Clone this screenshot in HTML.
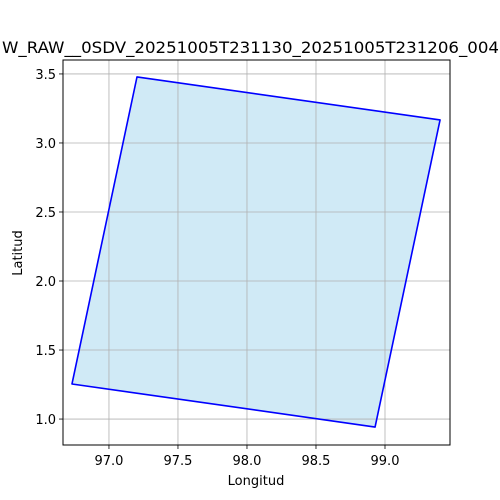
<!DOCTYPE html>
<html><head><meta charset="utf-8"><style>body{margin:0;background:#fff}svg{display:block;font-family:"DejaVu Sans","Liberation Sans",sans-serif}</style></head>
<body>
<svg id="chart" width="500" height="500">
<text x="2" y="53" font-size="16" fill="#000" textLength="497" lengthAdjust="spacingAndGlyphs">W_RAW__0SDV_20251005T231130_20251005T231206_004</text>
<g id="fill"></g>
<g id="grid"></g>
<g id="plot"></g>
<rect x="63" y="60" width="387" height="385" fill="none" stroke="#000" stroke-width="1"/>
<g id="ticks" font-size="13" fill="#000"></g>
<text x="256" y="485" font-size="13" text-anchor="middle">Longitud</text>
<text x="22" y="253" font-size="13" text-anchor="middle" transform="rotate(-90 22 253)">Latitud</text>
</svg>
<script>
const lons = [96.732, 97.203, 99.399, 98.928];
const lats = [1.254, 3.478, 3.167, 0.942];
const xTicks = [97.0, 97.5, 98.0, 98.5, 99.0];
const yTicks = [1.0, 1.5, 2.0, 2.5, 3.0, 3.5];
const xMin = 96.667, xMax = 99.471, yMin = 0.812, yMax = 3.601;
const L = 63, R = 450, T = 60, B = 445;
const sx = v => L + (v - xMin) / (xMax - xMin) * (R - L);
const sy = v => B - (v - yMin) / (yMax - yMin) * (B - T);
const NS = "http://www.w3.org/2000/svg";
const grid = document.getElementById('grid'), ticks = document.getElementById('ticks'), plot = document.getElementById('plot'), fillG = document.getElementById('fill');
function mk(tag, attrs, parent) { const e = document.createElementNS(NS, tag); for (const k in attrs) e.setAttribute(k, attrs[k]); parent.appendChild(e); return e; }
xTicks.forEach(v => {
  const x = sx(v);
  const g = mk('line', {x1: x, x2: x, y1: T, y2: B, stroke: '#b0b0b0', 'stroke-width': 0.8}, grid);
  
  
  mk('line', {x1: x, x2: x, y1: B, y2: B + 4, stroke: '#000', 'stroke-width': 0.8}, ticks);
  const t = mk('text', {x: x, y: B + 20, 'text-anchor': 'middle'}, ticks);
  t.textContent = v.toFixed(1);
  
  
});
yTicks.forEach(v => {
  const y = sy(v);
  const g = mk('line', {x1: L, x2: R, y1: y, y2: y, stroke: '#b0b0b0', 'stroke-width': 0.8}, grid);
  
  
  mk('line', {x1: L - 4, x2: L, y1: y, y2: y, stroke: '#000', 'stroke-width': 0.8}, ticks);
  const t = mk('text', {x: L - 7, y: y + 5, 'text-anchor': 'end'}, ticks);
  t.textContent = v.toFixed(1);
  
  
});
const pts = lons.map((v, i) => sx(v) + ',' + sy(lats[i])).join(' ');
const fillPoly = mk('polygon', {points: pts, fill: '#d0eaf6', stroke: 'none'}, fillG);


const poly = mk('polygon', {points: pts, fill: 'none', stroke: '#0000ff', 'stroke-width': 1.6, 'stroke-linejoin': 'round'}, plot);


</script>
</body></html>
